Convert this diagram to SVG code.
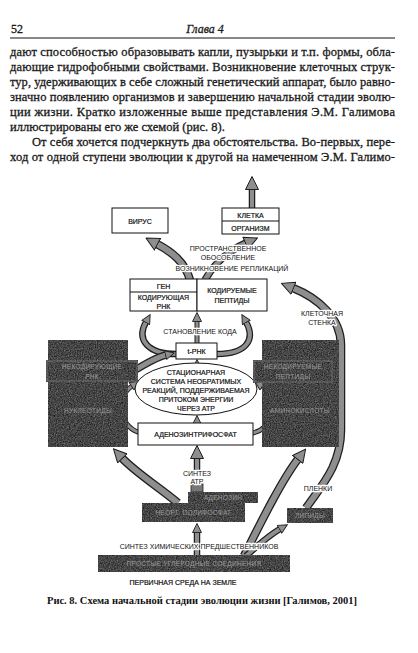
<svg xmlns="http://www.w3.org/2000/svg" width="418" height="653" viewBox="0 0 418 653">
<style>
.body{font-family:'Liberation Serif','Times New Roman',serif;font-size:12.5px;fill:#1a1a1a;stroke:#1a1a1a;stroke-width:0.3px}
.lb{font-family:'Liberation Sans',Arial,sans-serif;font-size:7px;fill:#111;text-anchor:middle;stroke:#111;stroke-width:0.2px}
.halo{paint-order:stroke;stroke:#fff;stroke-width:2.5px;stroke-linejoin:round}
.dk{font-family:'Liberation Sans',Arial,sans-serif;font-size:6.5px;fill:#9a9a9a;text-anchor:middle;letter-spacing:0.3px}
.box{fill:#fff;stroke:#111;stroke-width:1}
.ao{fill:none;stroke:#1e1e1e}
.ai{fill:none;stroke:#8e8e8e}
</style>
<defs>
<filter id="grain" x="0" y="0" width="1" height="1" color-interpolation-filters="sRGB">
<feTurbulence type="fractalNoise" baseFrequency="0.85" numOctaves="2" seed="4" result="t"/>
<feColorMatrix in="t" type="matrix" values="0 0 0 0.5 0.02  0 0 0 0.5 0.02  0 0 0 0.5 0.02  0 0 0 0 1" result="g"/>
<feComposite in="g" in2="SourceGraphic" operator="in"/>
</filter>
<marker id="hL" markerUnits="userSpaceOnUse" viewBox="0 0 14 14" markerWidth="14" markerHeight="14" refX="1" refY="7" orient="auto"><path d="M0.5,0.5 L13.5,7 L0.5,13.5 z" fill="#8e8e8e" stroke="#1e1e1e" stroke-width="1"/></marker>
<marker id="hS" markerUnits="userSpaceOnUse" viewBox="0 0 10 10" markerWidth="10" markerHeight="10" refX="1" refY="5" orient="auto"><path d="M0.5,0.5 L9.5,5 L0.5,9.5 z" fill="#8e8e8e" stroke="#1e1e1e" stroke-width="0.9"/></marker>
</defs>
<rect width="418" height="653" fill="#fff"/>

<g id="page-text" class="body">
<text x="11" y="33" font-size="12">52</text>
<text x="205" y="33" font-size="12" font-style="italic" text-anchor="middle">Глава 4</text>
<line x1="10" y1="38" x2="395" y2="38" stroke="#111" stroke-width="1"/>
<text x="10" y="56" textLength="385" lengthAdjust="spacing">дают способностью образовывать капли, пузырьки и т.п. формы, обла-</text>
<text x="10" y="71" textLength="385" lengthAdjust="spacing">дающие гидрофобными свойствами. Возникновение клеточных струк-</text>
<text x="10" y="86" textLength="385" lengthAdjust="spacing">тур, удерживающих в себе сложный генетический аппарат, было равно-</text>
<text x="10" y="101" textLength="385" lengthAdjust="spacing">значно появлению организмов и завершению начальной стадии эволю-</text>
<text x="10" y="116" textLength="385" lengthAdjust="spacing">ции жизни. Кратко изложенные выше представления Э.М. Галимова</text>
<text x="10" y="131">иллюстрированы его же схемой (рис. 8).</text>
<text x="32" y="146" textLength="363" lengthAdjust="spacing">От себя хочется подчеркнуть два обстоятельства. Во-первых, пере-</text>
<text x="10" y="161" textLength="385" lengthAdjust="spacing">ход от одной ступени эволюции к другой на намеченном Э.М. Галимо-</text>
</g>

<g id="connectors">
<path class="ao" stroke-width="6.5" d="M252,208 L252,189"/><path class="ai" stroke-width="4" d="M252,208 L252,189" marker-end="url(#hL)"/>
<path class="ao" stroke-width="8.5" d="M190,280 C185,262 172,252 157,244"/><path class="ai" stroke-width="6" d="M190,280 C185,262 172,252 157,244" marker-end="url(#hL)"/>
<path class="ao" stroke-width="7.5" d="M205,280 C215,262 230,250 246,243"/><path class="ai" stroke-width="5" d="M205,280 C215,262 230,250 246,243" marker-end="url(#hL)"/>
<path class="ao" stroke-width="8.5" d="M306,508 C322,485 341,465 341,430 L341,345 C341,318 318,298 293,288"/><path class="ai" stroke-width="6" d="M306,508 C322,485 341,465 341,430 L341,345 C341,318 318,298 293,288" marker-end="url(#hL)"/>
<path class="ao" stroke-width="6.5" d="M176,354 C148,354 136,340 146,322"/><path class="ai" stroke-width="4" d="M176,354 C148,354 136,340 146,322" marker-end="url(#hS)"/>
<path class="ao" stroke-width="6.5" d="M217,354 C246,354 256,340 246,322"/><path class="ai" stroke-width="4" d="M217,354 C246,354 256,340 246,322" marker-end="url(#hS)"/>
<path class="ao" stroke-width="5" d="M197,343 L197,321"/><path class="ai" stroke-width="3" d="M197,343 L197,321" marker-end="url(#hS)"/>
<path class="ao" stroke-width="5" d="M197,366 L197,368"/><path class="ai" stroke-width="3" d="M197,369 L197,368" marker-end="url(#hS)"/>
<path class="ao" stroke-width="5" d="M197,424 L197,423"/><path class="ai" stroke-width="3" d="M197,425 L197,424" marker-end="url(#hS)"/>
<path class="ao" stroke-width="7.5" d="M132,372 C148,362 158,357 166,355"/><path class="ai" stroke-width="5" d="M132,372 C148,362 158,357 166,355" marker-end="url(#hS)"/>
<path class="ao" stroke-width="5" d="M142,433 C120,430 114,398 132,386"/><path class="ai" stroke-width="3" d="M142,433 C120,430 114,398 132,386" marker-end="url(#hS)"/>
<path class="ao" stroke-width="5" d="M252,433 C274,430 280,398 262,386"/><path class="ai" stroke-width="3" d="M252,433 C274,430 280,398 262,386" marker-end="url(#hS)"/>
<path class="ao" stroke-width="8.5" d="M178,503 C160,488 135,472 122,458"/><path class="ai" stroke-width="6" d="M178,503 C160,488 135,472 122,458" marker-end="url(#hL)"/>
<path class="ao" stroke-width="8.5" d="M244,556 C262,520 282,480 298,459"/><path class="ai" stroke-width="6" d="M244,556 C262,520 282,480 298,459" marker-end="url(#hL)"/>
<path class="ao" stroke-width="6.5" d="M246,556 C258,545 268,536 280,529"/><path class="ai" stroke-width="4" d="M246,556 C258,545 268,536 280,529" marker-end="url(#hS)"/>
<path class="ao" stroke-width="6.5" d="M197,556 L197,532"/><path class="ai" stroke-width="4" d="M197,556 L197,532" marker-end="url(#hS)"/>
<path class="ao" stroke-width="6.5" d="M197,470 L197,458"/><path class="ai" stroke-width="4" d="M197,470 L197,458" marker-end="url(#hL)"/>
</g>

<g id="virus"><rect class="box" x="112" y="208" width="56" height="25"/><text class="lb" x="140" y="223.5">ВИРУС</text></g>
<g id="cell"><rect class="box" x="222" y="208" width="57" height="26"/><line x1="222" y1="221" x2="279" y2="221" stroke="#111"/><text class="lb" x="250.5" y="217.5">КЛЕТКА</text><text class="lb" x="250.5" y="230.5">ОРГАНИЗМ</text></g>
<g id="gene"><rect class="box" x="130" y="279" width="67" height="32"/><line x1="130" y1="292" x2="197" y2="292" stroke="#111"/><text class="lb" x="163.5" y="288.5">ГЕН</text><text class="lb" x="163.5" y="300">КОДИРУЮЩАЯ</text><text class="lb" x="163.5" y="308.5">РНК</text></g>
<g id="peptides"><rect class="box" x="197" y="279" width="70" height="32"/><text class="lb" x="232" y="293">КОДИРУЕМЫЕ</text><text class="lb" x="232" y="303">ПЕПТИДЫ</text></g>
<g id="trna"><rect class="box" x="176" y="343" width="41" height="16"/><text class="lb" x="196.5" y="353.5">t-РНК</text></g>
<g id="system"><ellipse cx="196" cy="389" rx="61" ry="26" fill="#fff" stroke="#111" stroke-width="1"/>
<text class="lb" x="196" y="374.5" font-size="6.5">СТАЦИОНАРНАЯ</text>
<text class="lb" x="196" y="383.5" font-size="6.5">СИСТЕМА НЕОБРАТИМЫХ</text>
<text class="lb" x="196" y="392.5" font-size="6.5">РЕАКЦИЙ, ПОДДЕРЖИВАЕМАЯ</text>
<text class="lb" x="196" y="401.5" font-size="6.5">ПРИТОКОМ ЭНЕРГИИ</text>
<text class="lb" x="196" y="410.5" font-size="6.5">ЧЕРЕЗ АТР</text></g>
<g id="atp"><rect class="box" x="138" y="423" width="115" height="22"/><text class="lb" x="195.5" y="437">АДЕНОЗИНТРИФОСФАТ</text></g>

<g id="noncoding-rna"><rect x="48" y="340" width="80" height="107" fill="#000" filter="url(#grain)"/><rect x="46" y="360" width="92" height="22" fill="#000" filter="url(#grain)"/><rect x="47" y="361" width="90" height="20" fill="none" stroke="#8a8a8a" stroke-width="0.6"/>
<text class="dk" x="92" y="369">НЕКОДИРУЮЩИЕ</text><text class="dk" x="92" y="378.5">РНК</text><text class="dk" x="88" y="413">НУКЛЕОТИДЫ</text></g>
<g id="noncoded-peptides"><rect x="262" y="340" width="77" height="107" fill="#000" filter="url(#grain)"/><rect x="253" y="360" width="80" height="23" fill="#000" filter="url(#grain)"/><rect x="254" y="361" width="78" height="21" fill="none" stroke="#8a8a8a" stroke-width="0.6"/>
<text class="dk" x="293" y="369">НЕКОДИРУЕМЫЕ</text><text class="dk" x="293" y="378.5">ПЕПТИДЫ</text><text class="dk" x="300" y="413">АМИНОКИСЛОТЫ</text></g>
<g id="adenosine"><rect x="191" y="484" width="12" height="8" fill="#777" stroke="#222" stroke-width="0.8"/><rect x="188" y="492" width="70" height="11" fill="#000" filter="url(#grain)"/><text class="dk" x="223" y="500">АДЕНОЗИН</text></g>
<g id="polyphosphate"><rect x="142" y="503" width="103" height="19" fill="#000" filter="url(#grain)"/><text class="dk" x="193.5" y="515">НЕОРГ. ПОЛИФОСФАТ</text></g>
<g id="lipids"><rect x="287" y="508" width="46" height="15" fill="#000" filter="url(#grain)"/><text class="dk" x="310" y="518">ЛИПИДЫ</text></g>
<g id="simple-compounds"><rect x="98" y="555" width="192" height="17" fill="#000" filter="url(#grain)"/><text class="dk" x="194" y="566">ПРОСТЫЕ УГЛЕРОДНЫЕ СОЕДИНЕНИЯ</text></g>

<g id="labels">
<text class="lb halo" x="228" y="250.5">ПРОСТРАНСТВЕННОЕ</text>
<text class="lb halo" x="228" y="259.5">ОБОСОБЛЕНИЕ</text>
<text class="lb halo" x="232" y="270.5">ВОЗНИКНОВЕНИЕ РЕПЛИКАЦИЙ</text>
<text class="lb halo" x="200" y="333.5">СТАНОВЛЕНИЕ КОДА</text>
<text class="lb halo" x="322" y="316">КЛЕТОЧНАЯ</text>
<text class="lb halo" x="322" y="325">СТЕНКА</text>
<text class="lb halo" x="197" y="475.5">СИНТЕЗ</text>
<text class="lb halo" x="197" y="484">АТР</text>
<text class="lb halo" x="318" y="490.5">ПЛЕНКИ</text>
<text class="lb halo" x="199" y="548.5">СИНТЕЗ ХИМИЧЕСКИХ ПРЕДШЕСТВЕННИКОВ</text>
<text class="lb" x="183" y="585" font-size="6">ПЕРВИЧНАЯ СРЕДА НА ЗЕМЛЕ</text>
</g>

<g id="caption"><text x="47" y="604" font-family="'Liberation Serif','Times New Roman',serif" font-size="10.5" font-weight="bold" fill="#111" textLength="310" lengthAdjust="spacingAndGlyphs">Рис. 8. Схема начальной стадии эволюции жизни [Галимов, 2001]</text></g>
</svg>
